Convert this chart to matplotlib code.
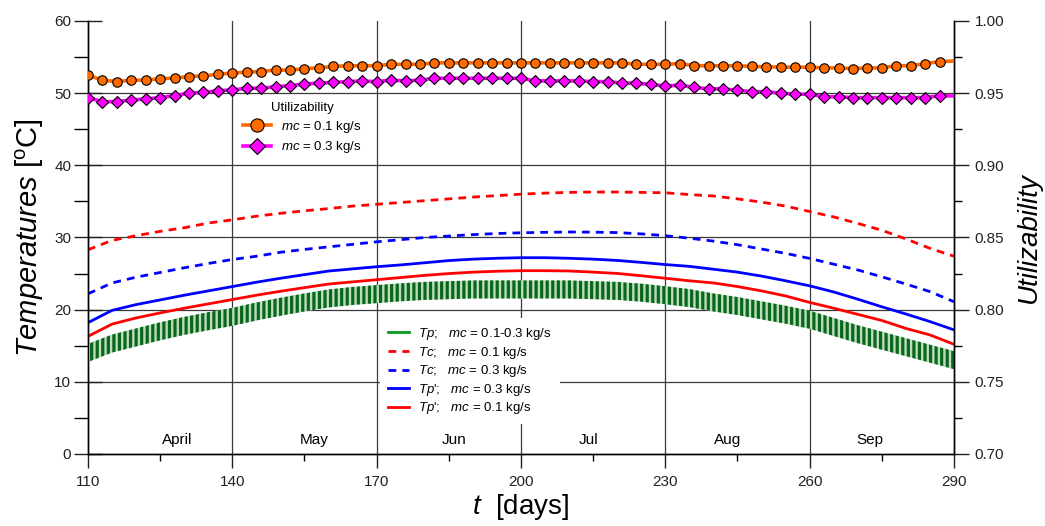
import matplotlib
matplotlib.use("Agg")
import matplotlib.pyplot as plt
from matplotlib.ticker import FixedLocator, MultipleLocator, FormatStrFormatter
from matplotlib.lines import Line2D

plt.rcParams['font.family'] = ['Liberation Sans', 'DejaVu Sans']
plt.rcParams['mathtext.fontset'] = 'custom'
plt.rcParams['mathtext.rm'] = 'Liberation Sans'
plt.rcParams['mathtext.it'] = 'Liberation Sans:italic'
plt.rcParams['mathtext.bf'] = 'Liberation Sans:bold'
plt.rcParams['hatch.linewidth'] = 2.3

# temperature curves (left axis, degC), read every 5 days
days = list(range(110, 291, 5))
tp_hi = [15.25, 16.55, 17.4, 18.25, 19.0, 19.65, 20.25, 21.0, 21.65, 22.25, 22.8, 23.15, 23.4,
         23.65, 23.85, 23.95, 24.05, 24.05, 24.05, 24.05, 24.05, 23.95, 23.85, 23.6, 23.25,
         22.85, 22.25, 21.75, 21.15, 20.55, 19.85, 18.85, 17.85, 16.95, 16.05, 15.15, 14.25]
tp_lo = [12.75, 14.05, 14.9, 15.75, 16.5, 17.15, 17.75, 18.5, 19.15, 19.75, 20.3, 20.65, 20.9,
         21.15, 21.35, 21.45, 21.55, 21.55, 21.55, 21.55, 21.55, 21.45, 21.35, 21.1, 20.75,
         20.35, 19.75, 19.25, 18.65, 18.05, 17.35, 16.35, 15.35, 14.45, 13.55, 12.65, 11.75]
tc_01 = [28.3, 29.6, 30.25, 30.85, 31.35, 32.0, 32.45, 32.95, 33.35, 33.7, 34.0, 34.35, 34.6,
         34.85, 35.1, 35.35, 35.6, 35.8, 36.0, 36.15, 36.25, 36.3, 36.3, 36.25, 36.2,
         35.95, 35.75, 35.35, 34.9, 34.35, 33.6, 32.85, 31.95, 31.0, 29.8, 28.5, 27.4]
tc_03 = [22.2, 23.7, 24.5, 25.15, 25.8, 26.4, 26.95, 27.4, 27.95, 28.35, 28.7, 29.05, 29.4,
         29.7, 30.0, 30.2, 30.4, 30.55, 30.65, 30.72, 30.76, 30.74, 30.68, 30.5, 30.25,
         29.9, 29.5, 29.0, 28.4, 27.8, 27.1, 26.3, 25.5, 24.55, 23.55, 22.5, 21.1]
tp2_03 = [18.2, 19.9, 20.7, 21.35, 22.0, 22.6, 23.2, 23.8, 24.35, 24.85, 25.35, 25.65, 25.95,
          26.2, 26.5, 26.8, 27.0, 27.12, 27.2, 27.2, 27.12, 27.0, 26.82, 26.55, 26.25,
          26.0, 25.6, 25.2, 24.65, 24.0, 23.3, 22.45, 21.45, 20.4, 19.4, 18.35, 17.2]
tp2_01 = [16.3, 18.0, 18.85, 19.55, 20.2, 20.8, 21.4, 22.0, 22.55, 23.05, 23.55, 23.85, 24.15,
          24.45, 24.75, 25.0, 25.2, 25.32, 25.4, 25.4, 25.36, 25.2, 25.02, 24.7, 24.35,
          24.0, 23.7, 23.2, 22.6, 21.9, 21.0, 20.2, 19.35, 18.5, 17.4, 16.5, 15.2]

# utilizability (right axis), markers every 3 days, line ends at day 290
util_days = list(range(110, 288, 3)) + [290]
util_01 = [0.9625, 0.9590, 0.9580, 0.9590, 0.9590, 0.9600, 0.9605, 0.9615, 0.9620, 0.9630,
           0.9640, 0.9645, 0.9650, 0.9660, 0.9660, 0.9670, 0.9675, 0.9685, 0.9690, 0.9690,
           0.9690, 0.9700, 0.9700, 0.9700, 0.9710, 0.9710, 0.9710, 0.9710, 0.9710, 0.9710,
           0.9710, 0.9710, 0.9710, 0.9710, 0.9710, 0.9710, 0.9710, 0.9710, 0.9700, 0.9700,
           0.9700, 0.9705, 0.9690, 0.9690, 0.9690, 0.9690, 0.9685, 0.9683, 0.9680, 0.9680,
           0.9680, 0.9675, 0.9675, 0.9670, 0.9675, 0.9675, 0.9690, 0.9690, 0.9705, 0.9718,
           0.9723]
util_03 = [0.9469, 0.9441, 0.9441, 0.9453, 0.9460, 0.9469, 0.9483, 0.9499, 0.9506, 0.9517,
           0.9522, 0.9534, 0.9534, 0.9545, 0.9552, 0.9564, 0.9569, 0.9575, 0.9580, 0.9584,
           0.9580, 0.9590, 0.9585, 0.9590, 0.9603, 0.9603, 0.9603, 0.9603, 0.9603, 0.9603,
           0.9603, 0.9585, 0.9585, 0.9585, 0.9585, 0.9580, 0.9580, 0.9570, 0.9570, 0.9560,
           0.9550, 0.9555, 0.9540, 0.9530, 0.9530, 0.9520, 0.9510, 0.9510, 0.9500, 0.9493,
           0.9493, 0.9475, 0.9475, 0.9469, 0.9469, 0.9469, 0.9469, 0.9469, 0.9469, 0.9483,
           0.9480]

months = ['April', 'May', 'Jun', 'Jul', 'Aug', 'Sep']
month_pos = [128.5, 157, 186, 214, 243, 272.5]
xticks = [110, 140, 170, 200, 230, 260, 290]

fig = plt.figure(figsize=(10.45, 5.26), dpi=100)
ax = fig.add_axes([0.0842, 0.1369, 0.8287, 0.8232])
ax2 = ax.twinx()

ax.set_xlim(110, 290)
ax.set_ylim(0, 60)
ax2.set_ylim(0.70, 1.00)

grid_c = '#3a3a3a'
for d in xticks[1:-1]:
    ax.axvline(d, color=grid_c, lw=0.9, zorder=1)
for t in [10, 20, 30, 40, 50]:
    ax.axhline(t, color=grid_c, lw=0.9, zorder=1)

# Tp oscillates daily: drawn as a hatched band between its daily highs and lows
ax.fill_between(days, tp_lo, tp_hi, facecolor='#b9ddbd', edgecolor='#0a661b',
                hatch='|||', lw=0, zorder=3)
ax.plot(days, tc_01, color='#ff0000', lw=2.0, dashes=(2.8, 2.2), zorder=4)
ax.plot(days, tc_03, color='#0000ff', lw=2.0, dashes=(2.8, 2.2), zorder=4)
ax.plot(days, tp2_03, color='#0000ff', lw=2.0, zorder=4)
ax.plot(days, tp2_01, color='#ff0000', lw=2.0, zorder=4)

for name, p in zip(months, month_pos):
    ax.text(p, 1.94, name, ha='center', va='center', fontsize=11)

n = len(util_days) - 1
l1, = ax2.plot(util_days, util_01, color='#ff6a00', lw=2.6, marker='o', ms=6.8,
               mfc='#ff6a00', mec='black', mew=0.8, markevery=list(range(n)), zorder=5)
l2, = ax2.plot(util_days, util_03, color='#ff00ff', lw=2.6, marker='D', ms=6.0,
               mfc='#ff00ff', mec='black', mew=0.8, markevery=list(range(n)), zorder=5)

# ticks and spines
ax.xaxis.set_major_locator(FixedLocator(xticks))
ax.xaxis.set_minor_locator(FixedLocator([125, 155, 185, 215, 245, 275]))
ax.yaxis.set_major_locator(MultipleLocator(10))
ax.yaxis.set_minor_locator(MultipleLocator(5))
ax2.yaxis.set_major_locator(MultipleLocator(0.05))
ax2.yaxis.set_minor_locator(MultipleLocator(0.025))
ax2.yaxis.set_major_formatter(FormatStrFormatter('%.2f'))

ax.tick_params(axis='x', which='major', direction='out', length=10, width=1, labelsize=11, pad=5)
ax.tick_params(axis='x', which='minor', direction='out', length=5, width=1)
ax.tick_params(axis='y', which='major', direction='inout', length=20, width=1, labelsize=11, pad=2)
ax.tick_params(axis='y', which='minor', direction='out', length=10, width=1)
ax2.tick_params(axis='y', which='major', direction='out', length=11, width=1, labelsize=11, pad=4)
ax2.tick_params(axis='y', which='minor', direction='out', length=6, width=1)
for a in (ax, ax2):
    a.spines['top'].set_visible(False)
    for s in ('left', 'right', 'bottom'):
        a.spines[s].set_linewidth(1.0)
ax.tick_params(colors='#222222', labelcolor='#222222')
ax2.tick_params(colors='#222222', labelcolor='#222222')

ax.set_ylabel(r'$\it{Temperatures}$ [$^{\rm o}$C]', fontsize=21, labelpad=6)
ax.set_xlabel(r'$\it{t}$  [days]', fontsize=20, labelpad=2)
ax2.set_ylabel('Utilizability', fontsize=20, style='italic', labelpad=8)

# legends
h_tp = Line2D([], [], color='#0a9a1a', lw=2.0)
h_tc1 = Line2D([], [], color='#ff0000', lw=2.0, dashes=(2.8, 2.2))
h_tc3 = Line2D([], [], color='#0000ff', lw=2.0, dashes=(2.8, 2.2))
h_p3 = Line2D([], [], color='#0000ff', lw=2.0)
h_p1 = Line2D([], [], color='#ff0000', lw=2.0)
labels2 = [r'$\it{Tp}$;   $\it{mc}$ = 0.1-0.3 kg/s',
           r'$\it{Tc}$;   $\it{mc}$ = 0.1 kg/s',
           r'$\it{Tc}$;   $\it{mc}$ = 0.3 kg/s',
           r"$\it{Tp}$';   $\it{mc}$ = 0.3 kg/s",
           r"$\it{Tp}$';   $\it{mc}$ = 0.1 kg/s"]
leg2 = ax.legend([h_tp, h_tc1, h_tc3, h_p3, h_p1], labels2, loc='upper left',
                 bbox_to_anchor=(380 / 1045, 1 - 318 / 526), bbox_transform=fig.transFigure,
                 fontsize=9.5, frameon=True, fancybox=False, edgecolor='none',
                 facecolor='white', framealpha=1, borderpad=0.6, borderaxespad=0,
                 handlelength=1.6, handletextpad=0.7, labelspacing=0.2)
leg2.set_zorder(6)

leg1 = ax2.legend([l1, l2], [r'$\it{mc}$ = 0.1 kg/s', r'$\it{mc}$ = 0.3 kg/s'],
                  title='Utilizability', title_fontsize=9.5, loc='upper left',
                  bbox_to_anchor=(243 / 1045, 1 - 102 / 526), bbox_transform=fig.transFigure,
                  fontsize=9.5, frameon=False, borderpad=0, borderaxespad=0,
                  handlelength=2.1, handletextpad=0.8, labelspacing=0.35,
                  markerscale=1.4, numpoints=1)

fig.savefig('out.png', dpi=100)
